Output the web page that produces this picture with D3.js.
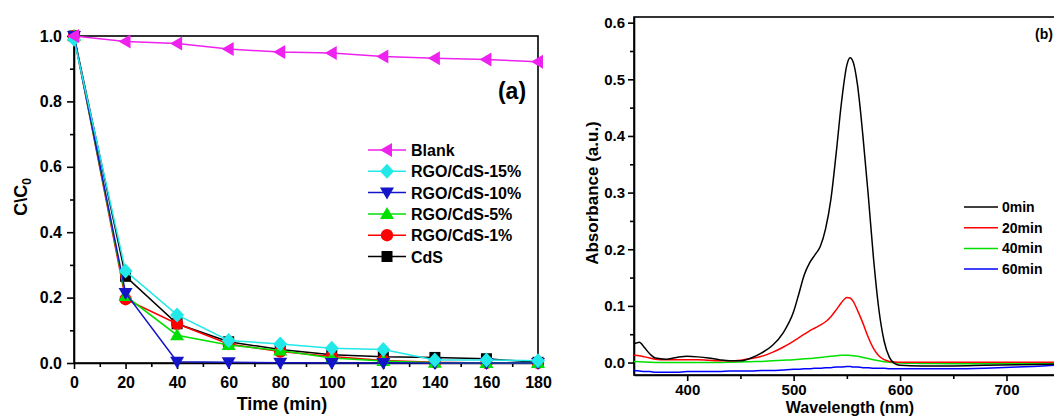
<!DOCTYPE html>
<html>
<head>
<meta charset="utf-8">
<script src="https://cdn.jsdelivr.net/npm/d3@7"></script>
<style>
  html, body { margin: 0; padding: 0; background: #fff; }
  svg { display: block; font-family: "Liberation Sans", Arial, sans-serif; font-weight: bold; }
</style>
</head>
<body>
<svg id="chart" width="1054" height="416"></svg>
<script>
// ---- Panel (a): C/C0 vs time ----
const timeMin = [0, 20, 40, 60, 80, 100, 120, 140, 160, 180];
const blank  = [1.0, 0.983, 0.977, 0.960, 0.951, 0.948, 0.937, 0.932, 0.928, 0.921];
const rgo15  = [0.99, 0.281, 0.147, 0.069, 0.058, 0.045, 0.041, 0.009, 0.009, 0.007];
const rgo10  = [1.0, 0.214, 0.004, 0.002, 0.001, 0.0, 0.0, 0.0, 0.0, 0.0];
const rgo5   = [1.0, 0.205, 0.085, 0.055, 0.038, 0.015, 0.006, 0.001, 0.0, 0.0];
const rgo1   = [1.0, 0.195, 0.120, 0.058, 0.035, 0.020, 0.008, 0.002, 0.0, 0.0];
const cds    = [1.0, 0.265, 0.120, 0.065, 0.041, 0.025, 0.019, 0.017, 0.013, 0.002];
const seriesNamesA = ['Blank', 'RGO/CdS-15%', 'RGO/CdS-10%', 'RGO/CdS-5%', 'RGO/CdS-1%', 'CdS'];
const timeTicks = [0, 20, 40, 60, 80, 100, 120, 140, 160, 180];
const ratioTicks = [0.0, 0.2, 0.4, 0.6, 0.8, 1.0];

// ---- Panel (b): absorbance spectra ----
const wavelength = [350, 355, 360, 365, 370, 380, 390, 400, 410, 420, 430, 440, 450, 460, 470, 480, 490,
  500, 505, 510, 515, 520, 525, 530, 535, 540, 545, 550, 553, 556, 560, 565, 570, 575, 580, 585, 590,
  595, 600, 620, 650, 680, 710, 750];
const abs0min = [0.033, 0.036, 0.026, 0.015, 0.008, 0.006, 0.009, 0.011, 0.010, 0.008, 0.005, 0.003, 0.003,
  0.008, 0.017, 0.030, 0.052, 0.090, 0.122, 0.155, 0.176, 0.190, 0.205, 0.236, 0.288, 0.370, 0.460, 0.525,
  0.538, 0.530, 0.490, 0.402, 0.298, 0.185, 0.095, 0.038, 0.009, -0.002, -0.005, -0.006, -0.006, -0.005,
  -0.004, -0.003];
const abs20min = [0.013, 0.012, 0.010, 0.008, 0.006, 0.005, 0.005, 0.005, 0.005, 0.004, 0.003, 0.003, 0.004,
  0.007, 0.011, 0.018, 0.027, 0.038, 0.044, 0.050, 0.056, 0.061, 0.066, 0.072, 0.081, 0.093, 0.106, 0.115,
  0.114, 0.108, 0.092, 0.070, 0.045, 0.025, 0.012, 0.005, 0.002, 0.001, 0.0005, 0.0005, 0.0005, 0.0005,
  0.0005, 0.0005];
const abs40min = [0.002, 0.0015, 0.001, 0.0005, 0.0, 0.0, 0.0, 0.0, 0.0, 0.0, 0.0, 0.0005, 0.001, 0.0015,
  0.002, 0.003, 0.004, 0.005, 0.006, 0.0065, 0.007, 0.008, 0.009, 0.010, 0.011, 0.012, 0.013, 0.013, 0.0125,
  0.012, 0.011, 0.009, 0.007, 0.005, 0.003, 0.0015, 0.0005, -0.0005, -0.001, -0.0015, -0.002, -0.002,
  -0.0015, -0.001];
const abs60min = [-0.014, -0.015, -0.016, -0.016, -0.017, -0.017, -0.017, -0.016, -0.016, -0.016, -0.016,
  -0.015, -0.015, -0.015, -0.014, -0.014, -0.013, -0.012, -0.012, -0.011, -0.011, -0.010, -0.010, -0.009,
  -0.009, -0.008, -0.008, -0.007, -0.007, -0.008, -0.008, -0.009, -0.009, -0.010, -0.010, -0.010, -0.011,
  -0.011, -0.011, -0.011, -0.011, -0.010, -0.008, -0.004];
const seriesNamesB = ['0min', '20min', '40min', '60min'];
const wlTicks = [400, 500, 600, 700];
const absTicks = [0.0, 0.1, 0.2, 0.3, 0.4, 0.5, 0.6];

const svg = d3.select('#chart');

// ================= Panel (a) =================
const xA = d3.scaleLinear().domain([0, 180]).range([74, 538]);
const yA = d3.scaleLinear().domain([0, 1]).range([363, 36]);

const gA = svg.append('g');

// frame
gA.append('rect')
  .attr('x', xA(0)).attr('y', yA(1))
  .attr('width', xA(180) - xA(0)).attr('height', yA(0) - yA(1))
  .attr('fill', 'none').attr('stroke', '#000').attr('stroke-width', 1.6);

// minor ticks
gA.append('g')
  .attr('transform', `translate(0,${yA(0)})`)
  .call(d3.axisBottom(xA).tickValues(d3.range(10, 180, 20)).tickSize(4).tickFormat('').tickSizeOuter(0))
  .call(g => g.select('.domain').remove());
gA.append('g')
  .attr('transform', `translate(${xA(0)},0)`)
  .call(d3.axisLeft(yA).tickValues([0.1, 0.3, 0.5, 0.7, 0.9]).tickSize(4).tickFormat('').tickSizeOuter(0))
  .call(g => g.select('.domain').remove());

// major axes
gA.append('g')
  .attr('transform', `translate(0,${yA(0)})`)
  .call(d3.axisBottom(xA).tickValues(timeTicks).tickSize(6).tickPadding(8).tickSizeOuter(0).tickFormat(d3.format('d')))
  .call(g => g.selectAll('text').attr('font-size', 16));
gA.append('g')
  .attr('transform', `translate(${xA(0)},0)`)
  .call(d3.axisLeft(yA).tickValues(ratioTicks).tickSize(7).tickPadding(5).tickSizeOuter(0).tickFormat(d3.format('.1f')))
  .call(g => g.selectAll('text').attr('font-size', 16));

svg.selectAll('.domain, .tick line').attr('stroke', '#000').attr('stroke-width', 1.6);
svg.selectAll('.tick text').attr('fill', '#000').attr('font-family', null);

// axis titles
gA.append('text')
  .attr('x', 282).attr('y', 410)
  .attr('text-anchor', 'middle').attr('font-size', 18)
  .text('Time (min)');
const yTitleA = gA.append('text')
  .attr('transform', 'translate(27,197) rotate(-90)')
  .attr('text-anchor', 'middle').attr('font-size', 18);
yTitleA.append('tspan').text('C\\C');
yTitleA.append('tspan').attr('font-size', 12).attr('dy', 4).text('0');

gA.append('text')
  .attr('x', 512).attr('y', 99)
  .attr('text-anchor', 'middle').attr('font-size', 23)
  .text('(a)');

// series, drawn bottom-up so Blank and cyan sit on top
const seriesA = [
  { name: seriesNamesA[5], values: cds,   color: '#000000', shape: 'square' },
  { name: seriesNamesA[4], values: rgo1,  color: '#ff0000', shape: 'circle' },
  { name: seriesNamesA[3], values: rgo5,  color: '#00e000', shape: 'up' },
  { name: seriesNamesA[2], values: rgo10, color: '#1414c8', shape: 'down' },
  { name: seriesNamesA[1], values: rgo15, color: '#22e8e8', shape: 'diamond' },
  { name: seriesNamesA[0], values: blank, color: '#ee22ee', shape: 'left' }
];

function markerPath(shape) {
  switch (shape) {
    case 'square':  return 'M-5.5,-5.5H5.5V5.5H-5.5Z';
    case 'circle':  return d3.symbol(d3.symbolCircle, 120)();
    case 'up':      return 'M0,-7L7,5L-7,5Z';
    case 'down':    return 'M0,7L7,-5L-7,-5Z';
    case 'diamond': return 'M0,-7.5L7,0L0,7.5L-7,0Z';
    case 'left':    return 'M-7,0L5,-7L5,7Z';
  }
}

const lineA = d3.line().x(d => xA(d[0])).y(d => yA(d[1]));

seriesA.forEach(s => {
  const pts = timeMin.map((t, i) => [t, s.values[i]]);
  gA.append('path')
    .attr('d', lineA(pts))
    .attr('fill', 'none').attr('stroke', s.color).attr('stroke-width', 1.5);
  gA.selectAll(null)
    .data(pts)
    .enter()
    .append('path')
    .attr('transform', d => `translate(${xA(d[0])},${yA(d[1])})`)
    .attr('d', markerPath(s.shape))
    .attr('fill', s.color);
});

// legend (a)
const legA = gA.append('g');
seriesA.slice().reverse().forEach((s, i) => {
  const cy = 150 + i * 21.3;
  legA.append('line')
    .attr('x1', 368).attr('x2', 406).attr('y1', cy).attr('y2', cy)
    .attr('stroke', s.color).attr('stroke-width', 1.5);
  legA.append('path')
    .attr('transform', `translate(387,${cy})`)
    .attr('d', markerPath(s.shape))
    .attr('fill', s.color);
  legA.append('text')
    .attr('x', 411).attr('y', cy + 6)
    .attr('font-size', 16)
    .text(s.name);
});

// ================= Panel (b) =================
const xB = d3.scaleLinear().domain([350, 750]).range([634, 1059.7]);
const yB = d3.scaleLinear().domain([-0.022, 0.61]).range([375, 17]);

const gB = svg.append('g');

gB.append('defs').append('clipPath').attr('id', 'clipB')
  .append('rect')
  .attr('x', xB(350)).attr('y', yB(0.61))
  .attr('width', xB(750) - xB(350)).attr('height', yB(-0.022) - yB(0.61));

gB.append('rect')
  .attr('x', xB(350)).attr('y', yB(0.61))
  .attr('width', xB(750) - xB(350)).attr('height', yB(-0.022) - yB(0.61))
  .attr('fill', 'none').attr('stroke', '#000').attr('stroke-width', 1.6);

// minor ticks
gB.append('g')
  .attr('transform', `translate(0,${yB(-0.022)})`)
  .call(d3.axisBottom(xB).tickValues([450, 550, 650, 750]).tickSize(4).tickFormat('').tickSizeOuter(0))
  .call(g => g.select('.domain').remove());
gB.append('g')
  .attr('transform', `translate(${xB(350)},0)`)
  .call(d3.axisLeft(yB).tickValues([0.05, 0.15, 0.25, 0.35, 0.45, 0.55]).tickSize(4).tickFormat('').tickSizeOuter(0))
  .call(g => g.select('.domain').remove());

gB.append('g')
  .attr('transform', `translate(0,${yB(-0.022)})`)
  .call(d3.axisBottom(xB).tickValues(wlTicks).tickSize(6).tickPadding(3).tickSizeOuter(0).tickFormat(d3.format('d')))
  .call(g => g.selectAll('text').attr('font-size', 15));
gB.append('g')
  .attr('transform', `translate(${xB(350)},0)`)
  .call(d3.axisLeft(yB).tickValues(absTicks).tickSize(6).tickPadding(3).tickSizeOuter(0).tickFormat(d3.format('.1f')))
  .call(g => g.selectAll('text').attr('font-size', 15));

svg.selectAll('.domain, .tick line').attr('stroke', '#000').attr('stroke-width', 1.6);
svg.selectAll('.tick text').attr('fill', '#000').attr('font-family', null);

gB.append('text')
  .attr('x', 850).attr('y', 412.6)
  .attr('text-anchor', 'middle').attr('font-size', 16)
  .text('Wavelength (nm)');
gB.append('text')
  .attr('transform', 'translate(598,193) rotate(-90)')
  .attr('text-anchor', 'middle').attr('font-size', 17)
  .text('Absorbance (a.u.)');
gB.append('text')
  .attr('x', 1035).attr('y', 39)
  .attr('font-size', 14)
  .text('(b)');

const seriesB = [
  { name: seriesNamesB[3], values: abs60min, color: '#0000ff' },
  { name: seriesNamesB[2], values: abs40min, color: '#00e000' },
  { name: seriesNamesB[1], values: abs20min, color: '#ff0000' },
  { name: seriesNamesB[0], values: abs0min,  color: '#000000' }
];

const lineB = d3.line()
  .x(d => xB(d[0]))
  .y(d => yB(d[1]))
  .curve(d3.curveMonotoneX);

const curves = gB.append('g').attr('clip-path', 'url(#clipB)');
seriesB.forEach(s => {
  curves.append('path')
    .attr('d', lineB(wavelength.map((w, i) => [w, s.values[i]])))
    .attr('fill', 'none').attr('stroke', s.color).attr('stroke-width', 1.5);
});

// legend (b)
seriesB.slice().reverse().forEach((s, i) => {
  const cy = 207 + i * 20.7;
  gB.append('line')
    .attr('x1', 964).attr('x2', 998).attr('y1', cy).attr('y2', cy)
    .attr('stroke', s.color).attr('stroke-width', 1.5);
  gB.append('text')
    .attr('x', 1002).attr('y', cy + 5)
    .attr('font-size', 14)
    .text(s.name);
});
</script>
</body>
</html>
